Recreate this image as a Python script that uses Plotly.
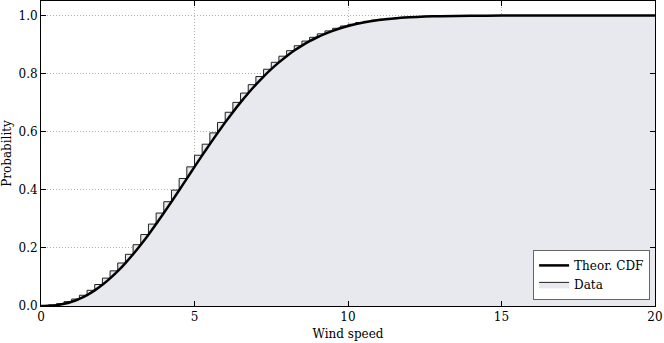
import plotly.graph_objects as go

# cumulative fraction of the data at the right edge of each 0.25 m/s bin
bin_width = 0.25
data_cdf = [
    0.001, 0.004, 0.008, 0.015, 0.024, 0.037, 0.054, 0.074,
    0.096, 0.121, 0.148, 0.178, 0.211, 0.246, 0.282, 0.320,
    0.359, 0.399, 0.439, 0.479, 0.519, 0.557, 0.596, 0.632,
    0.667, 0.701, 0.733, 0.762, 0.790, 0.815, 0.839, 0.860,
    0.879, 0.896, 0.912, 0.925, 0.937, 0.947, 0.956, 0.964,
    0.970, 0.976, 0.980, 0.984, 0.987, 0.990, 0.992, 0.994,
    0.995, 0.996, 0.997, 0.998, 0.998, 0.999, 0.999, 0.999,
    1.0, 1.0, 1.0, 1.0, 1.0, 1.0, 1.0, 1.0,
    1.0, 1.0, 1.0, 1.0, 1.0, 1.0, 1.0, 1.0,
    1.0, 1.0, 1.0, 1.0, 1.0, 1.0, 1.0, 1.0,
]

# theoretical CDF
theor_x = [0, 0.25, 0.5, 0.75, 1.0, 1.25, 1.5, 1.75, 2.0, 2.25, 2.5, 2.75,
           3.0, 3.25, 3.5, 3.75, 4.0, 4.25, 4.5, 4.75, 5.0, 5.25, 5.5, 5.75,
           6.0, 6.25, 6.5, 6.75, 7.0, 7.25, 7.5, 7.75, 8.0, 8.25, 8.5, 8.75,
           9.0, 9.25, 9.5, 9.75, 10.0, 10.5, 11.0, 11.5, 12.0, 12.5, 13.0,
           14.0, 15.0, 17.0, 20.0]
theor_cdf = [0.0, 0.0006, 0.0029, 0.0075, 0.0147, 0.0248, 0.0377, 0.0538,
             0.0729, 0.0950, 0.1200, 0.1478, 0.1781, 0.2109, 0.2456, 0.2821,
             0.3200, 0.3589, 0.3986, 0.4387, 0.4788, 0.5184, 0.5573, 0.5954,
             0.6321, 0.6674, 0.7009, 0.7326, 0.7623, 0.7899, 0.8154, 0.8387,
             0.8600, 0.8793, 0.8964, 0.9117, 0.9252, 0.9371, 0.9474, 0.9563,
             0.9639, 0.9759, 0.9843, 0.9901, 0.9939, 0.9963, 0.9979,
             0.9993, 0.9998, 1.0, 1.0]

x_ticks = [0, 5, 10, 15, 20]
y_ticks = [0.0, 0.2, 0.4, 0.6, 0.8, 1.0]

# step outline: start at (0,0), one point per bin left edge, close at 20
edges = [i * bin_width for i in range(len(data_cdf) + 1)]
step_x = [0] + edges[:-1] + [edges[-1]]
step_y = [0] + data_cdf + [data_cdf[-1]]

font = "DejaVu Serif"

fig = go.Figure()
fig.add_trace(go.Scatter(
    x=step_x, y=step_y, mode="lines", name="Data",
    line=dict(color="#222222", width=1, shape="hv"),
    fill="tozeroy", fillcolor="#e8e9ee",
))
fig.add_trace(go.Scatter(
    x=theor_x, y=theor_cdf, mode="lines", name="Theor. CDF",
    line=dict(color="black", width=2.5, shape="spline", smoothing=0.6),
))

axis_style = dict(
    showline=True, linecolor="black", linewidth=1, mirror="allticks",
    ticks="inside", ticklen=5, tickcolor="black",
    showgrid=True, gridcolor="#b0b0b0", griddash="1px,2px", gridwidth=1,
    zeroline=False, tickfont=dict(family=font, size=12, color="black"),
)

fig.update_xaxes(range=[0, 20], tickvals=x_ticks, ticktext=[str(t) for t in x_ticks],
                 title=dict(text="Wind speed", font=dict(family=font, size=12, color="black"),
                            standoff=6),
                 **axis_style)
fig.update_yaxes(range=[0, 1.05], tickvals=y_ticks, ticktext=["%.1f" % t for t in y_ticks],
                 title=dict(text="Probability", font=dict(family=font, size=12, color="black"),
                            standoff=4),
                 **axis_style)

fig.update_layout(
    width=664, height=343,
    margin=dict(l=41, r=9, t=1, b=37),
    plot_bgcolor="white", paper_bgcolor="white",
    font=dict(family=font, size=12, color="black"),
    legend=dict(x=0.992, y=0.02, xanchor="right", yanchor="bottom",
                bgcolor="white", bordercolor="#666666", borderwidth=1,
                tracegroupgap=0, itemwidth=30,
                traceorder="reversed", font=dict(family=font, size=12)),
)

# drop the page's default body margin so the chart sits at the window corner
fig.write_html("out.html", config={"displayModeBar": False},
               post_script="document.body.style.margin='0';")
